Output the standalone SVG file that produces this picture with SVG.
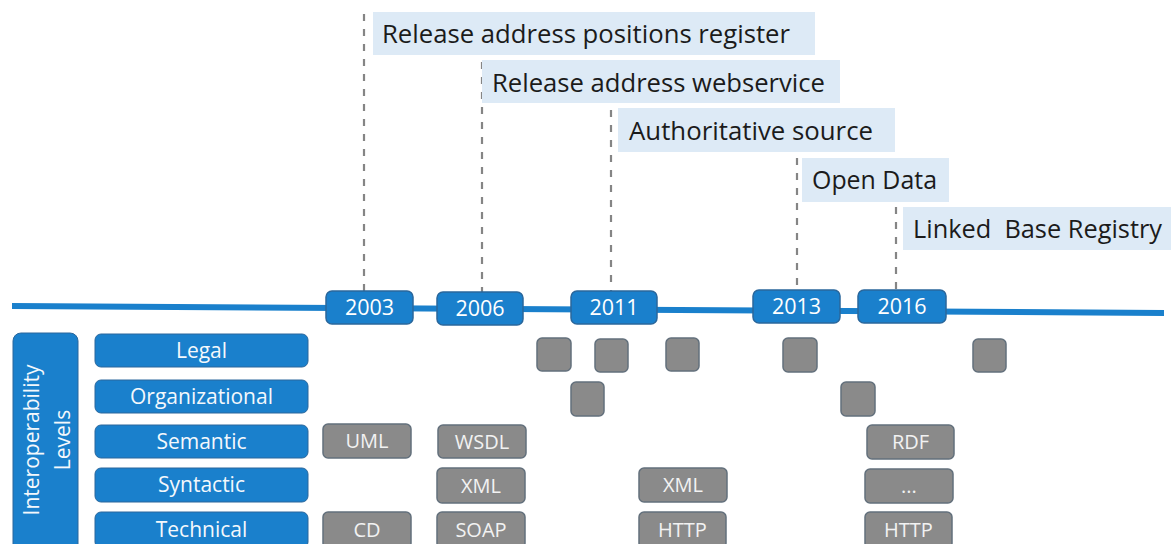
<svg xmlns="http://www.w3.org/2000/svg" width="1171" height="544" viewBox="0 0 1171 544">
  <style>
    .lbl-bg { fill: #ddeaf6; }
    .lbl { font-family: "Open Sans", "Liberation Sans", sans-serif; font-size: 25px; fill: #1b1b1b; white-space: pre; }
    .year { fill: #1a80cc; stroke: #2a679c; stroke-width: 1.5; }
    .year-t { font-family: "Open Sans", "Liberation Sans", sans-serif; font-size: 21.5px; fill: #ffffff; text-anchor: middle; }
    .level { fill: #1a80cc; stroke: #2a679c; stroke-width: 1; }
    .level-t { font-family: "Open Sans", "Liberation Sans", sans-serif; font-size: 21px; fill: #f4f8fc; text-anchor: middle; }
    .item { fill: #8a8a8a; stroke: #63707c; stroke-width: 1.5; }
    .item-t { font-family: "Open Sans", "Liberation Sans", sans-serif; font-size: 20px; fill: #f2f2f2; text-anchor: middle; }
    .guide { stroke: #858585; stroke-width: 2.2; stroke-dasharray: 7 8; fill: none; }
    .axis { stroke: #1a80cc; stroke-width: 6; stroke-linecap: butt; fill: none; }
  </style>

  <!-- timeline axis and milestone guides -->
  <g id="connectors">
    <line class="axis" x1="12" y1="306" x2="1164" y2="313"/>
    <line class="guide" x1="364" y1="14" x2="364" y2="291"/>
    <line class="guide" x1="482" y1="62" x2="482" y2="292"/>
    <line class="guide" x1="611" y1="110" x2="611" y2="291"/>
    <line class="guide" x1="797" y1="158" x2="797" y2="290"/>
    <line class="guide" x1="896" y1="207" x2="896" y2="291"/>
  </g>

  <!-- milestone labels -->
  <g id="label-register">
    <rect class="lbl-bg" x="373" y="12" width="442" height="43"/>
    <text class="lbl" x="382" y="43" textLength="408" lengthAdjust="spacingAndGlyphs">Release address positions register</text>
  </g>
  <g id="label-webservice">
    <rect class="lbl-bg" x="482" y="60" width="358" height="43"/>
    <text class="lbl" x="492" y="92" textLength="333" lengthAdjust="spacingAndGlyphs">Release address webservice</text>
  </g>
  <g id="label-authoritative">
    <rect class="lbl-bg" x="618" y="108" width="277" height="44"/>
    <text class="lbl" x="629" y="140" textLength="244" lengthAdjust="spacingAndGlyphs">Authoritative source</text>
  </g>
  <g id="label-opendata">
    <rect class="lbl-bg" x="802" y="158" width="147" height="44"/>
    <text class="lbl" x="812" y="189" textLength="125" lengthAdjust="spacingAndGlyphs">Open Data</text>
  </g>
  <g id="label-linked">
    <rect class="lbl-bg" x="903" y="207" width="268" height="43"/>
    <text class="lbl" x="913" y="238" textLength="249" lengthAdjust="spacingAndGlyphs">Linked  Base Registry</text>
  </g>

  <!-- years on the axis -->
  <g id="year-2003">
    <rect class="year" x="326" y="291" width="87" height="33" rx="6"/>
    <text class="year-t" x="369.5" y="315">2003</text>
  </g>
  <g id="year-2006">
    <rect class="year" x="437" y="292" width="86" height="33" rx="6"/>
    <text class="year-t" x="480" y="316">2006</text>
  </g>
  <g id="year-2011">
    <rect class="year" x="571" y="291" width="86" height="33" rx="6"/>
    <text class="year-t" x="614" y="315">2011</text>
  </g>
  <g id="year-2013">
    <rect class="year" x="753" y="290" width="87" height="33" rx="6"/>
    <text class="year-t" x="796.5" y="314">2013</text>
  </g>
  <g id="year-2016">
    <rect class="year" x="858" y="290" width="88" height="33" rx="6"/>
    <text class="year-t" x="902" y="314">2016</text>
  </g>

  <!-- interoperability levels -->
  <g id="levels-title">
    <rect class="level" x="13" y="333" width="65" height="220" rx="8"/>
    <text class="level-t" transform="translate(39,440) rotate(-90)">Interoperability</text>
    <text class="level-t" transform="translate(70,440) rotate(-90)">Levels</text>
  </g>
  <g id="level-legal">
    <rect class="level" x="95" y="334" width="213" height="33" rx="6"/>
    <text class="level-t" x="201.5" y="358">Legal</text>
  </g>
  <g id="level-organizational">
    <rect class="level" x="95" y="380" width="213" height="33" rx="6"/>
    <text class="level-t" x="201.5" y="404">Organizational</text>
  </g>
  <g id="level-semantic">
    <rect class="level" x="95" y="425" width="213" height="33" rx="6"/>
    <text class="level-t" x="201.5" y="449">Semantic</text>
  </g>
  <g id="level-syntactic">
    <rect class="level" x="95" y="468" width="213" height="34" rx="6"/>
    <text class="level-t" x="201.5" y="492">Syntactic</text>
  </g>
  <g id="level-technical">
    <rect class="level" x="95" y="512" width="213" height="36" rx="6"/>
    <text class="level-t" x="201.5" y="537">Technical</text>
  </g>

  <!-- legal row markers -->
  <g id="legal-1"><rect class="item" x="537" y="338" width="34" height="33" rx="5"/></g>
  <g id="legal-2"><rect class="item" x="595" y="339" width="33" height="33" rx="5"/></g>
  <g id="legal-3"><rect class="item" x="666" y="338" width="33" height="33" rx="5"/></g>
  <g id="legal-4"><rect class="item" x="783" y="338" width="34" height="34" rx="5"/></g>
  <g id="legal-5"><rect class="item" x="973" y="339" width="33" height="33" rx="5"/></g>

  <!-- organizational row markers -->
  <g id="org-1"><rect class="item" x="571" y="382" width="33" height="34" rx="5"/></g>
  <g id="org-2"><rect class="item" x="841" y="382" width="34" height="34" rx="5"/></g>

  <!-- semantic row -->
  <g id="sem-uml">
    <rect class="item" x="323" y="424" width="88" height="34" rx="5"/>
    <text class="item-t" x="367" y="448">UML</text>
  </g>
  <g id="sem-wsdl">
    <rect class="item" x="438" y="425" width="88" height="33" rx="5"/>
    <text class="item-t" x="482" y="449">WSDL</text>
  </g>
  <g id="sem-rdf">
    <rect class="item" x="867" y="425" width="87" height="34" rx="5"/>
    <text class="item-t" x="910.5" y="449">RDF</text>
  </g>

  <!-- syntactic row -->
  <g id="syn-xml-1">
    <rect class="item" x="437" y="468" width="88" height="35" rx="5"/>
    <text class="item-t" x="481" y="493">XML</text>
  </g>
  <g id="syn-xml-2">
    <rect class="item" x="639" y="468" width="88" height="34" rx="5"/>
    <text class="item-t" x="683" y="492">XML</text>
  </g>
  <g id="syn-more">
    <rect class="item" x="865" y="469" width="88" height="34" rx="5"/>
    <text class="item-t" x="909" y="493">...</text>
  </g>

  <!-- technical row -->
  <g id="tech-cd">
    <rect class="item" x="323" y="512" width="88" height="36" rx="5"/>
    <text class="item-t" x="367" y="537">CD</text>
  </g>
  <g id="tech-soap">
    <rect class="item" x="437" y="512" width="88" height="36" rx="5"/>
    <text class="item-t" x="481" y="537">SOAP</text>
  </g>
  <g id="tech-http-1">
    <rect class="item" x="639" y="512" width="87" height="36" rx="5"/>
    <text class="item-t" x="682.5" y="537">HTTP</text>
  </g>
  <g id="tech-http-2">
    <rect class="item" x="865" y="512" width="87" height="36" rx="5"/>
    <text class="item-t" x="908.5" y="537">HTTP</text>
  </g>
</svg>
